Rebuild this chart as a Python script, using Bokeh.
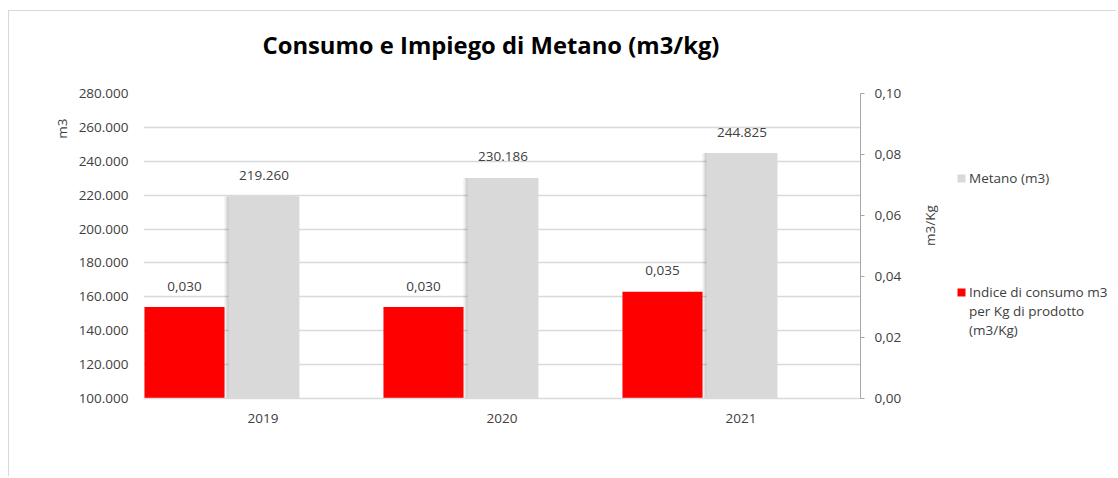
from bokeh.plotting import figure
from bokeh.layouts import row
from bokeh.models import (FactorRange, Range1d, LinearAxis, FixedTicker, ColumnDataSource,
                          Legend, LegendItem, Title)
from bokeh.transform import dodge
from bokeh.embed import file_html
from bokeh.resources import INLINE
from bokeh.core.properties import value
import math

# ---- data ----
years = ["2019", "2020", "2021"]
metano_m3 = [219260, 230186, 244825]
indice_m3_kg = [0.030, 0.030, 0.035]
left_ticks = [100000, 120000, 140000, 160000, 180000, 200000, 220000, 240000, 260000, 280000]
right_ticks = [0.00, 0.02, 0.04, 0.06, 0.08, 0.10]
title_text = "Consumo e Impiego di Metano (m3/kg)"
legend_metano = "Metano (m3)"
legend_indice = ["Indice di consumo m3", "per Kg di prodotto", "(m3/Kg)"]


def it_int(v):
    return f"{v:,.0f}".replace(",", ".")


def it_dec(v, d):
    return f"{v:.{d}f}".replace(".", ",")


FONT = "Open Sans"
FS = "13.5px"
TXT = "#404040"
GRID = "#d9d9d9"
GRAY = "#d9d9d9"
RED = "#ff0000"

src = ColumnDataSource(dict(
    year=years, metano=metano_m3, indice=indice_m3_kg,
    metano_lbl=[it_int(v) for v in metano_m3],
    indice_lbl=[it_dec(v, 3) for v in indice_m3_kg],
))

p = figure(x_range=FactorRange(factors=years, range_padding=0),
           y_range=Range1d(left_ticks[0], left_ticks[-1]),
           frame_width=717, frame_height=305, title_location=None,
           output_backend="svg", toolbar_location=None,
           min_border_left=134, min_border_right=90, min_border_top=82, min_border_bottom=78)
p.extra_y_ranges = {"idx": Range1d(right_ticks[0], right_ticks[-1])}
p.outline_line_color = None
p.background_fill_color = "white"
p.border_fill_color = "white"

# title: a thin spacer next to the frame, then the real title above it
spacer = Title(text=" ", text_font_size="1px", standoff=30)
p.add_layout(spacer, "above")
main_title = Title(text=title_text, text_font=FONT, text_font_size="23.8px",
                   text_font_style="bold", text_color="#000000", align="left",
                   offset=119, standoff=0)
p.add_layout(main_title, "above")

# grid
p.xgrid.grid_line_color = None
p.ygrid.ticker = FixedTicker(ticks=left_ticks)
p.ygrid.grid_line_color = GRID
p.ygrid.grid_line_width = 1.5

# soft shadows of grey bars
for off, a in [(-0.018, 0.05), (-0.011, 0.07), (-0.005, 0.09)]:
    p.vbar(x=dodge("year", 0.004 + off, range=p.x_range), top="metano", bottom=left_ticks[0],
           width=0.297, fill_color="black", fill_alpha=a, line_color=None, source=src)

p.vbar(x=dodge("year", 0.004, range=p.x_range), top="metano", bottom=left_ticks[0],
       width=0.297, fill_color=GRAY, line_color=None, source=src)
p.vbar(x=dodge("year", -0.3285, range=p.x_range), top="indice", bottom=right_ticks[0],
       width=0.335, fill_color=RED, line_color=None, source=src, y_range_name="idx")

# data labels
p.text(x=dodge("year", 0.004, range=p.x_range), y="metano", text="metano_lbl", source=src,
       text_align="center", text_baseline="middle", y_offset=-21,
       text_font=value(FONT), text_font_size=FS, text_color=TXT)
p.text(x=dodge("year", -0.3285, range=p.x_range), y="indice", text="indice_lbl", source=src,
       text_align="center", text_baseline="middle", y_offset=-21, y_range_name="idx",
       text_font=value(FONT), text_font_size=FS, text_color=TXT)

# left axis
ya = p.yaxis[0]
ya.ticker = FixedTicker(ticks=left_ticks)
ya.major_label_overrides = {t: it_int(t) for t in left_ticks}
ya.axis_line_color = None
ya.major_tick_line_color = None
ya.major_tick_out = 0
ya.minor_tick_line_color = None
ya.major_label_standoff = 15
ya.major_label_text_font = FONT
ya.major_label_text_font_size = FS
ya.major_label_text_color = TXT

lt = Title(text="m3", align="right", offset=25, text_font=FONT, text_font_size=FS,
           text_font_style="normal", text_color=TXT)
p.add_layout(lt, "left")

# x axis
xa = p.xaxis[0]
xa.axis_line_color = GRID
xa.axis_line_width = 1.5
xa.major_tick_line_color = None
xa.major_tick_out = 0
xa.minor_tick_line_color = None
xa.major_label_standoff = 15
xa.major_label_text_font = FONT
xa.major_label_text_font_size = FS
xa.major_label_text_color = TXT

# right axis
ra = LinearAxis(y_range_name="idx", ticker=FixedTicker(ticks=right_ticks))
ra.major_label_overrides = {t: it_dec(t, 2) for t in right_ticks}
ra.axis_line_color = "#a6a6a6"
ra.major_tick_line_color = "#a6a6a6"
ra.major_tick_in = 0
ra.major_tick_out = 4
ra.minor_tick_line_color = None
ra.major_label_standoff = 10
ra.major_label_text_font = FONT
ra.major_label_text_font_size = FS
ra.major_label_text_color = TXT
ra.axis_label = "m3/Kg"
ra.axis_label_orientation = math.pi / 2
ra.axis_label_standoff = 26
ra.axis_label_text_font = FONT
ra.axis_label_text_font_size = FS
ra.axis_label_text_font_style = "normal"
ra.axis_label_text_color = TXT
p.add_layout(ra, "right")

# legend panel: a small companion figure whose frame holds the legend
lg = figure(x_range=Range1d(0, 1), y_range=Range1d(0, 1), frame_width=165, frame_height=465,
            output_backend="svg", toolbar_location=None, title_location=None,
            min_border=0, min_border_left=0, min_border_right=0,
            min_border_top=0, min_border_bottom=0)
lg.axis.visible = False
lg.grid.visible = False
lg.outline_line_color = None
lg.background_fill_color = "white"
lg.border_fill_color = "white"
# legend swatch renderers: they use the real data, which lies outside this 0..1 frame
sw_gray = lg.vbar(x="metano", top="metano", bottom="metano", width=1, source=src,
                  fill_color=GRAY, line_color=None)
sw_red = lg.vbar(x="metano", top="metano", bottom="metano", width=1, source=src,
                 fill_color=RED, line_color=None)
sw_blank = lg.vbar(x="metano", top="metano", bottom="metano", width=1, source=src,
                   fill_alpha=0, line_alpha=0)

items = [LegendItem(label=legend_metano, renderers=[sw_gray], index=0)]
items += [LegendItem(label=" ", renderers=[sw_blank], index=0) for _ in range(5)]
items += [LegendItem(label=legend_indice[0], renderers=[sw_red], index=0)]
items += [LegendItem(label=t, renderers=[sw_blank], index=0) for t in legend_indice[1:]]
leg = Legend(items=items, location=(5, 137), glyph_width=10, glyph_height=10, label_height=19,
             label_standoff=3, spacing=0, border_line_color=None, background_fill_alpha=0,
             padding=0, margin=0, label_text_font=FONT, label_text_font_size=FS,
             label_text_color=TXT)
lg.add_layout(leg, "center")

layout = row(p, lg, spacing=0,
             styles={"margin-left": "8px", "margin-top": "10px",
                     "border-left": "1px solid #d9d9d9", "border-top": "1px solid #d9d9d9"})

open("out.html", "w").write(file_html(layout, INLINE))
